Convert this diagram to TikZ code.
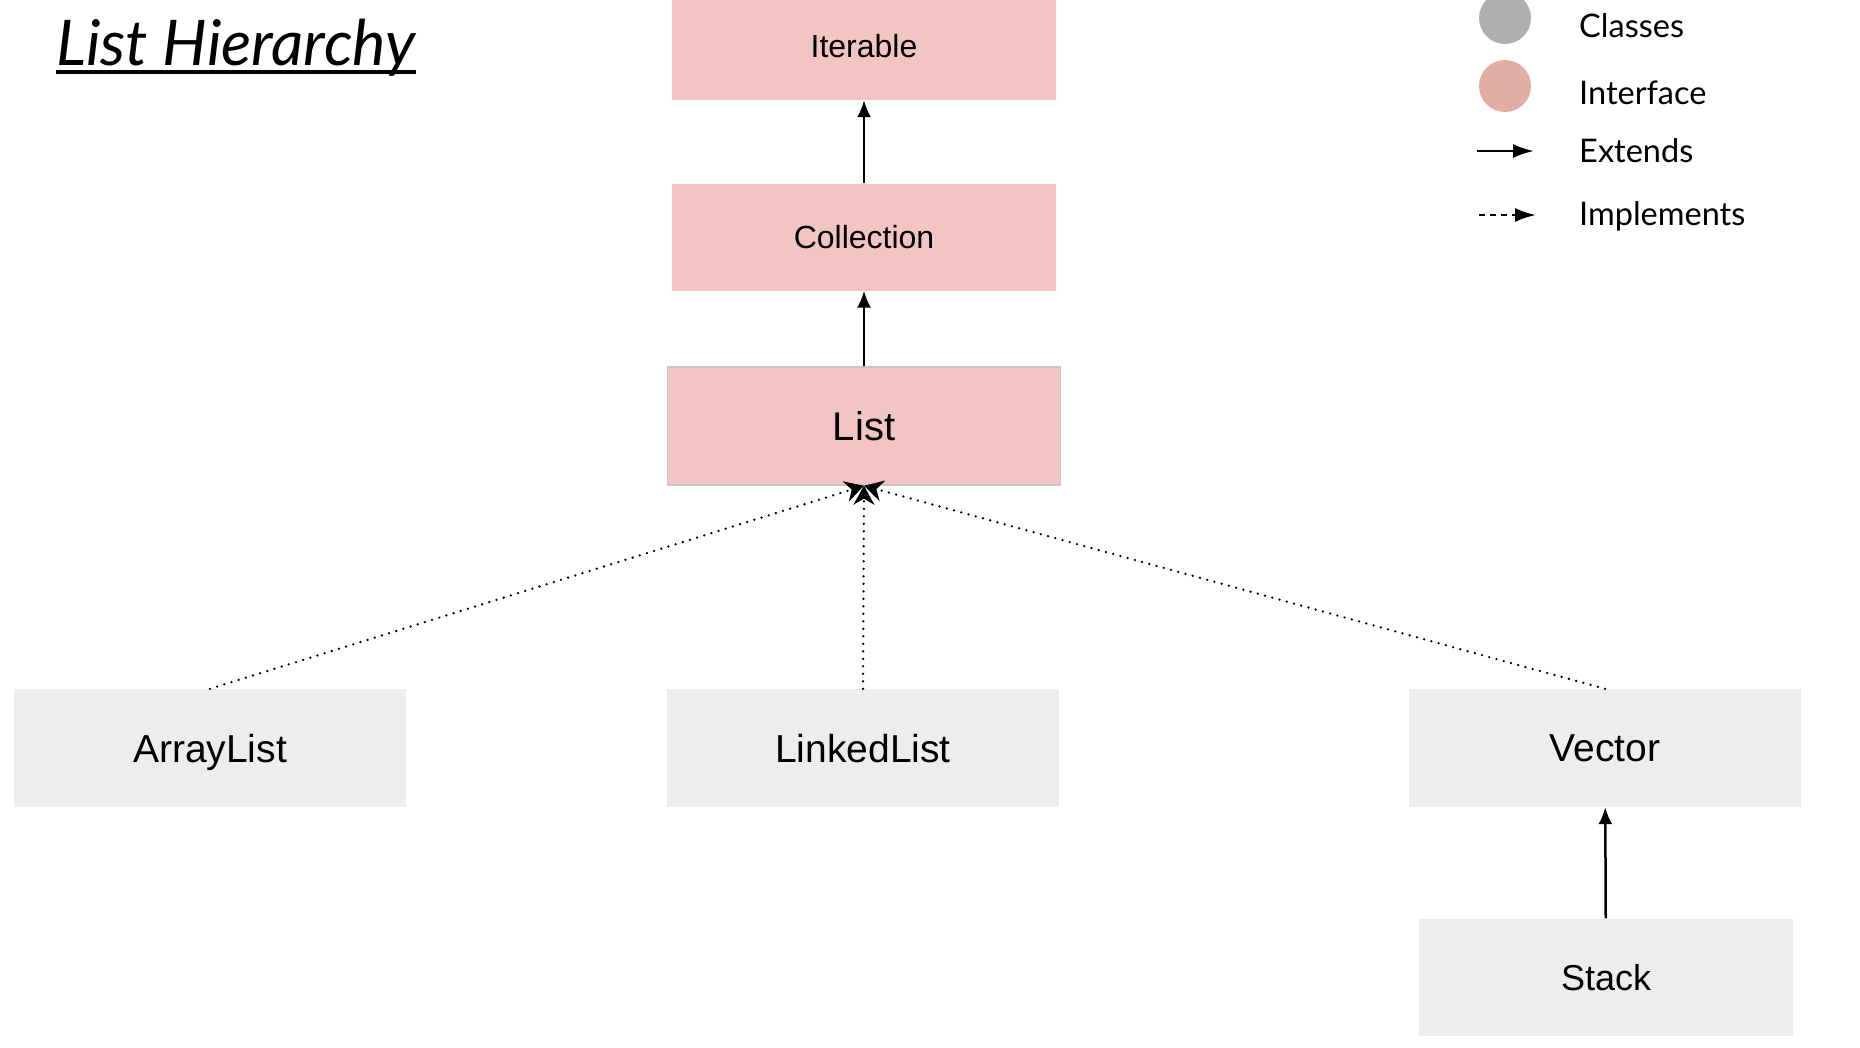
\documentclass[tikz,border=0pt]{standalone}
\usepackage{fontspec}
\setmainfont{Liberation Sans}
\newfontfamily\latofont{Lato}
\usetikzlibrary{arrows.meta,calc,positioning}

\definecolor{ifacepink}{HTML}{F2C4C4}
\definecolor{classgray}{HTML}{EDEDED}
\definecolor{legendgray}{HTML}{AFAFAF}
\definecolor{legendpink}{HTML}{E2AEA4}
\definecolor{listborder}{HTML}{C6C6C6}

\begin{document}
\begin{tikzpicture}[x=1pt,y=-1pt,
    iface/.style={fill=ifacepink,minimum width=384pt,minimum height=107pt,inner sep=0pt,text depth=0pt,font=\fontsize{32}{36}\selectfont},
    cls/.style={fill=classgray,minimum width=392pt,minimum height=118pt,inner sep=0pt,text depth=0pt,font=\fontsize{39}{44}\selectfont},
    ext/.style={line width=2.5pt,-{Latex[length=17pt,width=14pt]}},
    impl/.style={line width=2.6pt,dash pattern=on 0pt off 7.5pt,line cap=round,-{Stealth[length=19pt,width=21pt]}},
    legtext/.style={anchor=west,inner sep=0pt,font=\latofont\fontsize{32.5}{36}\selectfont}]
    \useasboundingbox[fill=white] (0,0) rectangle (1860,1047);
    % Titel
    \node[anchor=base west,inner sep=0pt,font=\latofont\itshape\fontsize{63}{70}\selectfont] (title) at (56,65) {List Hierarchy};
    \draw[line width=3.5pt] ($(title.base west)+(0,7)$) -- ($(title.base east)+(0,7)$);
    % Interfaces
    \node[iface,minimum height=108pt] (iterable) at (864,46) {Iterable};
    \node[iface] (collection) at (864,237) {Collection};
    \node[iface,draw=listborder,line width=1.5pt,minimum width=393pt,minimum height=118pt,font=\fontsize{40}{44}\selectfont] (list) at (864,426) {List};
    % Klasser
    \node[cls] (arraylist) at (210,748) {ArrayList};
    \node[cls] (linkedlist) at (863,748) {LinkedList};
    \node[cls] (vector) at (1605,748) {Vector};
    \node[cls,minimum width=374pt,minimum height=117pt,font=\fontsize{36}{40}\selectfont] (stack) at (1606,977) {Stack};
    % Pile
    \draw[ext] (collection) -- (iterable);
    \draw[ext] (list) -- (collection);
    \draw[ext] (stack) -- (vector);
    \draw[impl] (arraylist.north) -- (list.south);
    \draw[impl] (linkedlist.north) -- (list.south);
    \draw[impl] (vector.north) -- (list.south);
    % Forklaring
    \node[circle,fill=legendgray,minimum size=52pt,inner sep=0pt] (clsdot) at (1505,18) {};
    \node[circle,fill=legendpink,minimum size=52pt,inner sep=0pt] (ifdot) at (1505,86) {};
    \coordinate (extA) at (1477,151);
    \coordinate (extB) at (1534,151);
    \coordinate (impA) at (1479,215);
    \coordinate (impB) at (1536,215);
    \draw[line width=2.5pt,-{Latex[length=21pt,width=14pt]}] (extA) -- (extB);
    \draw[line width=2.5pt,dash pattern=on 6pt off 5pt,-{Latex[length=21pt,width=14pt]}] (impA) -- (impB);
    \node[legtext] (clstext) at (1579,26) {Classes};
    \node[legtext] (iftext) at (1579,93) {Interface};
    \node[legtext] (exttext) at (1579,151) {Extends};
    \node[legtext] (imptext) at (1579,216) {Implements};
\end{tikzpicture}
\end{document}
